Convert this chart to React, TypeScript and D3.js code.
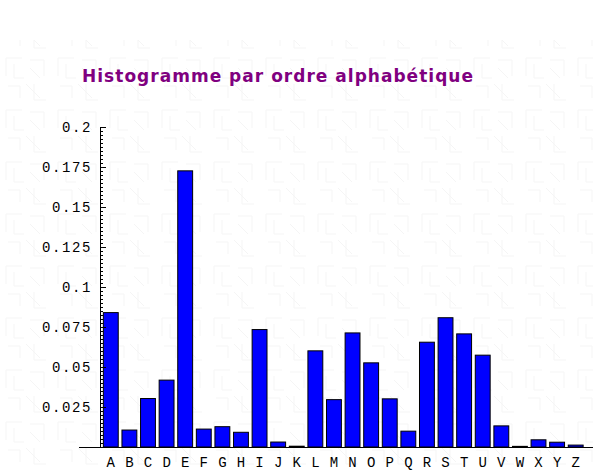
import React, { useEffect, useRef } from "react";
import * as d3 from "d3";

// French letter frequencies
const letters = "ABCDEFGHIJKLMNOPQRSTUVWXYZ".split("");
const freqs = [
  0.084, 0.0106, 0.0303, 0.0418, 0.1726, 0.0112, 0.0127, 0.0092, 0.0734,
  0.0031, 0.0005, 0.0601, 0.0296, 0.0713, 0.0526, 0.0301, 0.0099, 0.0655,
  0.0808, 0.0707, 0.0574, 0.0132, 0.0004, 0.0045, 0.003, 0.0012,
];
const yTicks = [0.025, 0.05, 0.075, 0.1, 0.125, 0.15, 0.175, 0.2];
const yTickLabels = ["0.025", "0.05", "0.075", "0.1", "0.125", "0.15", "0.175", "0.2"];
const title = "Histogramme par ordre alphabétique";

const W = 593;
const H = 472;

export default function App() {
  const ref = useRef<SVGSVGElement>(null);

  useEffect(() => {
    const svg = d3.select(ref.current);
    svg.selectAll("*").remove();

    const x = d3
      .scaleBand()
      .domain(letters)
      .range([101.5, 585])
      .paddingInner(0.2)
      .paddingOuter(0.1);
    const y = d3.scaleLinear().domain([0, 0.2]).range([447, 127]);

    // faint watermark-like background
    const pat = svg
      .append("defs")
      .append("pattern")
      .attr("id", "bg")
      .attr("width", 52)
      .attr("height", 52)
      .attr("patternUnits", "userSpaceOnUse");
    pat
      .append("path")
      .attr(
        "d",
        "M6 6h16M6 6v18M14 12v14h10M30 8h14v16M30 16l10 10M8 34h12v12M26 32l14 14M34 32v16h12"
      )
      .attr("fill", "none")
      .attr("stroke", "#f5f5f5")
      .attr("stroke-width", 1);
    svg.append("rect").attr("width", W).attr("height", H).attr("fill", "#fff");
    svg.append("rect").attr("y", 40).attr("width", W).attr("height", H - 40).attr("fill", "url(#bg)");

    // title
    svg
      .append("text")
      .attr("x", 82)
      .attr("y", 82)
      .attr("font-family", "DejaVu Sans, Verdana, sans-serif")
      .attr("font-weight", "bold")
      .attr("font-size", 17)
      .attr("textLength", 391)
      .attr("lengthAdjust", "spacing")
      .attr("fill", "#800080")
      .text(title);

    // bars
    svg
      .append("g")
      .selectAll("rect")
      .data(freqs)
      .enter()
      .append("rect")
      .attr("x", (d, i) => x(letters[i])!)
      .attr("y", d => y(d))
      .attr("width", x.bandwidth())
      .attr("height", d => y(0) - y(d))
      .attr("fill", "#0000ff")
      .attr("stroke", "#000")
      .attr("stroke-width", 1);

    // x axis baseline
    svg
      .append("line")
      .attr("x1", 79)
      .attr("x2", W)
      .attr("y1", y(0) + 0.5)
      .attr("y2", y(0) + 0.5)
      .attr("stroke", "#000");

    // y axis line
    svg
      .append("line")
      .attr("x1", 100.5)
      .attr("x2", 100.5)
      .attr("y1", y(0.2))
      .attr("y2", y(0))
      .attr("stroke", "#000");

    // minor ticks every 0.0025
    const minor = d3.range(0, 81).map(i => i * 0.0025);
    svg
      .append("g")
      .selectAll("line")
      .data(minor)
      .enter()
      .append("line")
      .attr("x1", 100.5)
      .attr("x2", (d, i) => (i % 10 === 0 ? 106 : 103))
      .attr("y1", d => Math.round(y(d)) + 0.5)
      .attr("y2", d => Math.round(y(d)) + 0.5)
      .attr("stroke", "#000");

    // y tick labels
    svg
      .append("g")
      .selectAll("text")
      .data(yTicks)
      .enter()
      .append("text")
      .attr("x", 92)
      .attr("y", d => y(d) + 5)
      .attr("text-anchor", "end")
      .attr("font-family", "Liberation Mono, monospace")
      .attr("font-size", 14)
      .attr("letter-spacing", 1.6)
      .attr("fill", "#000")
      .text((d, i) => yTickLabels[i]);

    // x labels
    svg
      .append("g")
      .selectAll("text")
      .data(letters)
      .enter()
      .append("text")
      .attr("x", d => x(d)! + x.bandwidth() / 2)
      .attr("y", 467)
      .attr("text-anchor", "middle")
      .attr("font-family", "Liberation Mono, monospace")
      .attr("font-size", 14)
      .attr("fill", "#000")
      .text(d => d);
  }, []);

  return (
    <svg
      ref={ref}
      width={W}
      height={H}
      style={{ position: "absolute", left: 0, top: 0 }}
    />
  );
}
